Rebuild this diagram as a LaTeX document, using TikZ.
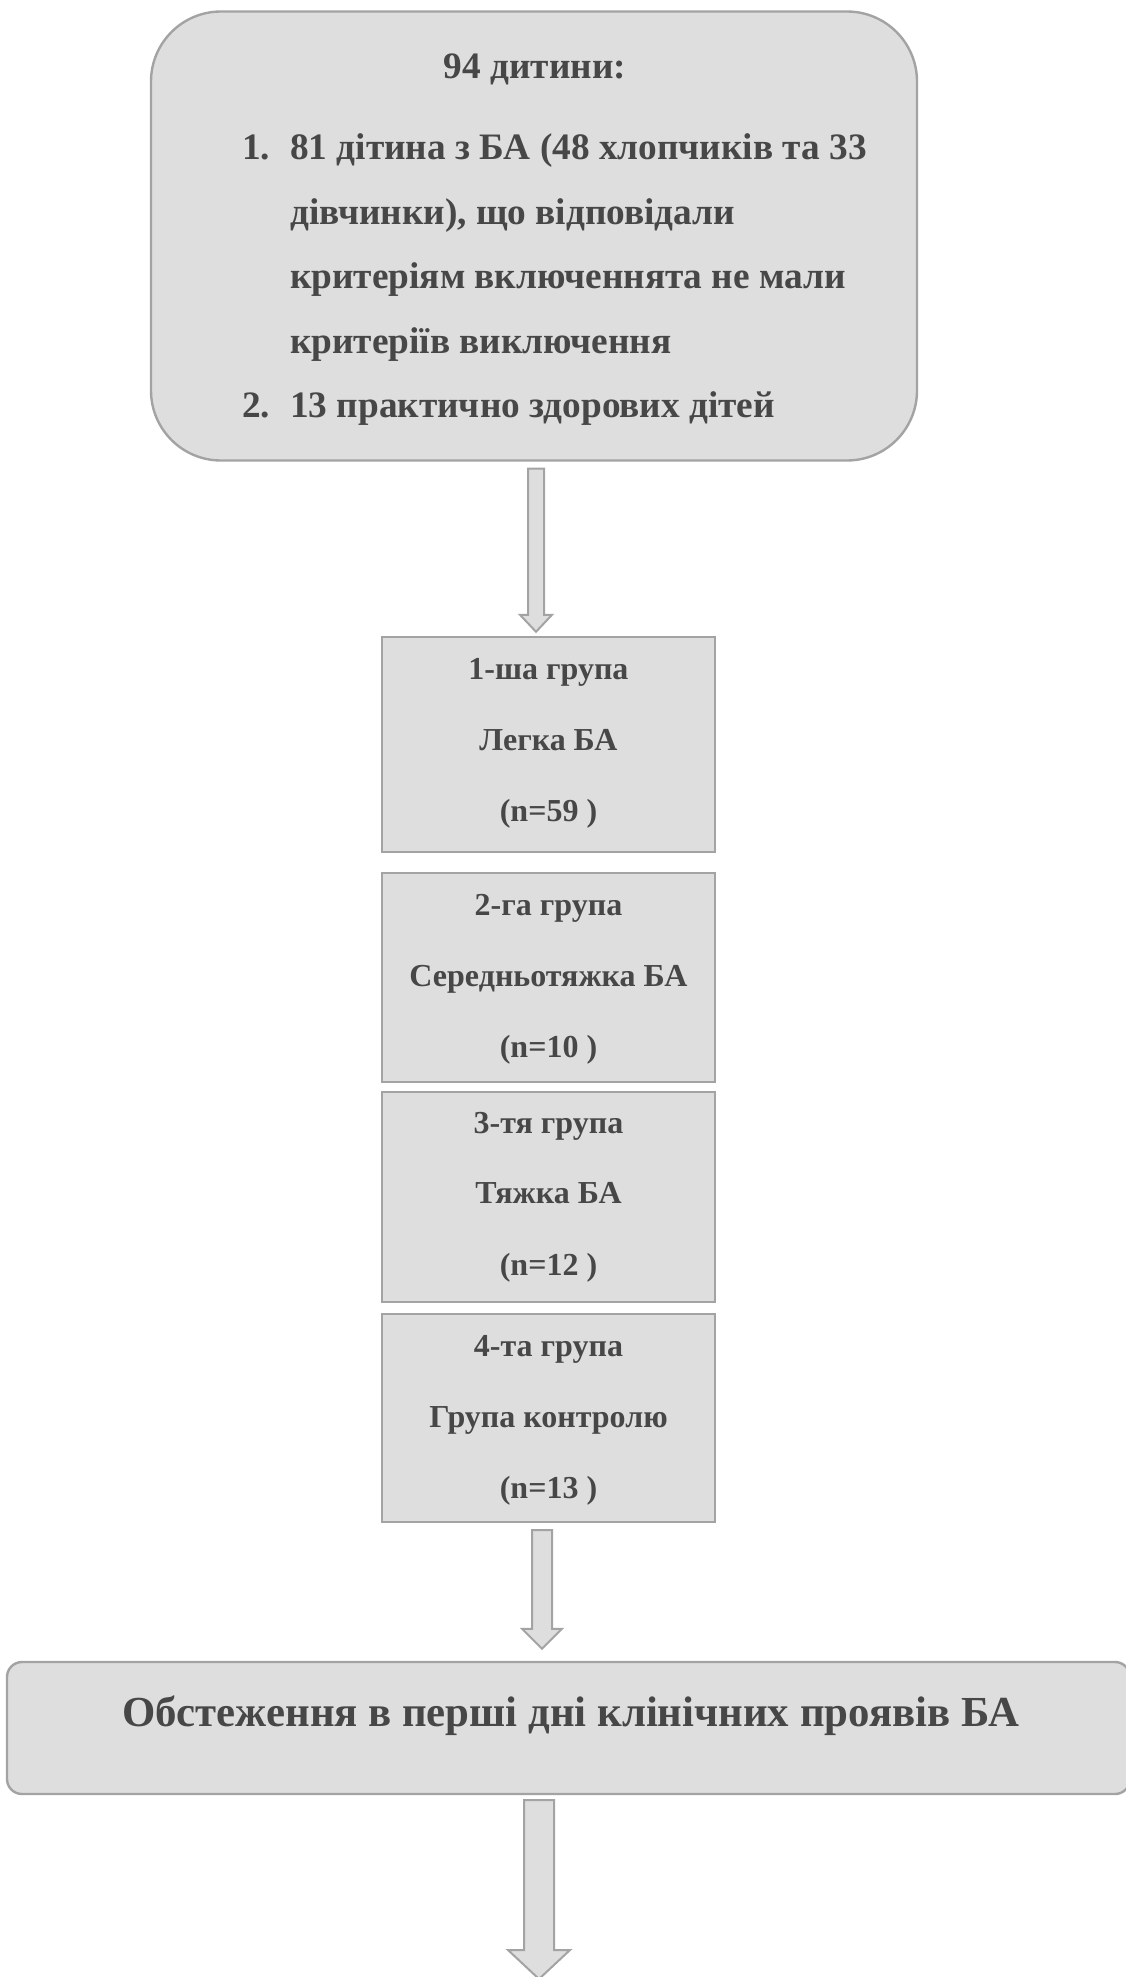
\documentclass[tikz,border=0pt]{standalone}
\usepackage{fontspec}
\setmainfont{Liberation Serif}
\usetikzlibrary{calc}
\definecolor{boxfill}{HTML}{DEDEDE}
\definecolor{boxline}{HTML}{A3A3A3}
\definecolor{txt}{HTML}{474747}
\newcommand{\blockarrow}[5]{%
  \draw[barrow] ($(#1)+(-#3,0)$) -- ($(#2)+(-#3,-#5)$) -- ($(#2)+(-#4,-#5)$) -- (#2)
    -- ($(#2)+(#4,-#5)$) -- ($(#2)+(#3,-#5)$) -- ($(#1)+(#3,0)$) -- cycle;}
\begin{document}
\begin{tikzpicture}[x=1pt,y=-1pt,
  topbox/.style={draw=boxline,fill=boxfill,line width=2.4pt,rounded corners=70pt,inner sep=0pt},
  grpbox/.style={draw=boxline,fill=boxfill,line width=2.4pt,inner sep=0pt,minimum width=333pt},
  endbox/.style={draw=boxline,fill=boxfill,line width=2.4pt,rounded corners=15pt,inner sep=0pt},
  toptxt/.style={text=txt,font=\fontsize{37.3}{45}\selectfont\bfseries,inner sep=0pt,anchor=base west},
  grptxt/.style={text=txt,font=\fontsize{32}{40}\selectfont\bfseries,inner sep=0pt,anchor=base},
  endtxt/.style={text=txt,font=\fontsize{42.8}{50}\selectfont\bfseries,inner sep=0pt,anchor=base},
  barrow/.style={draw=boxline,fill=boxfill,line width=2pt,line join=miter}]
\useasboundingbox (0,0) rectangle (1126,1977);
% top box
\node[topbox,minimum width=766pt,minimum height=449pt] (top) at (534,236) {};
\node[toptxt,anchor=base] (t0) at (535,79) {94 дитини:};
\node[toptxt] (t1n) at (242,160) {1.};
\node[toptxt] (t1) at (290,160) {81 дітина з БА (48 хлопчиків та 33};
\node[toptxt] (t2) at (290,224.4) {дівчинки), що відповідали};
\node[toptxt] (t3) at (290,288.8) {критеріям включеннята не мали};
\node[toptxt] (t4) at (290,353.2) {критеріїв виключення};
\node[toptxt] (t5n) at (242,417.6) {2.};
\node[toptxt] (t5) at (290,417.6) {13 практично здорових дітей};
% group boxes
\node[grpbox,minimum height=215pt] (g1) at (548.5,744.5) {};
\node[grptxt] (g1a) at (548.5,679) {1-ша група};
\node[grptxt] (g1b) at (548.5,750) {Легка БА};
\node[grptxt] (g1c) at (548.5,821) {(n=59 )};
\node[grpbox,minimum height=209pt] (g2) at (548.5,977.5) {};
\node[grptxt] (g2a) at (548.5,915) {2-га група};
\node[grptxt] (g2b) at (548.5,986) {Середньотяжка БА};
\node[grptxt] (g2c) at (548.5,1057) {(n=10 )};
\node[grpbox,minimum height=210pt] (g3) at (548.5,1197) {};
\node[grptxt] (g3a) at (548.5,1133) {3-тя група};
\node[grptxt] (g3b) at (548.5,1203) {Тяжка БА};
\node[grptxt] (g3c) at (548.5,1275) {(n=12 )};
\node[grpbox,minimum height=208pt] (g4) at (548.5,1418) {};
\node[grptxt] (g4a) at (548.5,1356) {4-та група};
\node[grptxt] (g4b) at (548.5,1427) {Група контролю};
\node[grptxt] (g4c) at (548.5,1498) {(n=13 )};
% bottom box
\node[endbox,minimum width=1123pt,minimum height=132pt] (exam) at (568.5,1728) {};
\node[endtxt] (examt) at (571,1726) {Обстеження в перші дні клінічних проявів БА};
% arrows
\coordinate (a1s) at ($(top.south)+(2,7)$);
\coordinate (a1e) at ($(g1.north)+(-12.5,-4)$);
\blockarrow{a1s}{a1e}{8}{16}{17}
\coordinate (a2s) at ($(g4.south)+(-6.5,7)$);
\coordinate (a2e) at ($(exam.north)+(-26.5,-12)$);
\blockarrow{a2s}{a2e}{10}{20}{20}
\coordinate (a3s) at ($(exam.south)+(-29.5,5)$);
\coordinate (a3e) at (539,1979);
\blockarrow{a3s}{a3e}{15}{31}{29}
\end{tikzpicture}
\end{document}
